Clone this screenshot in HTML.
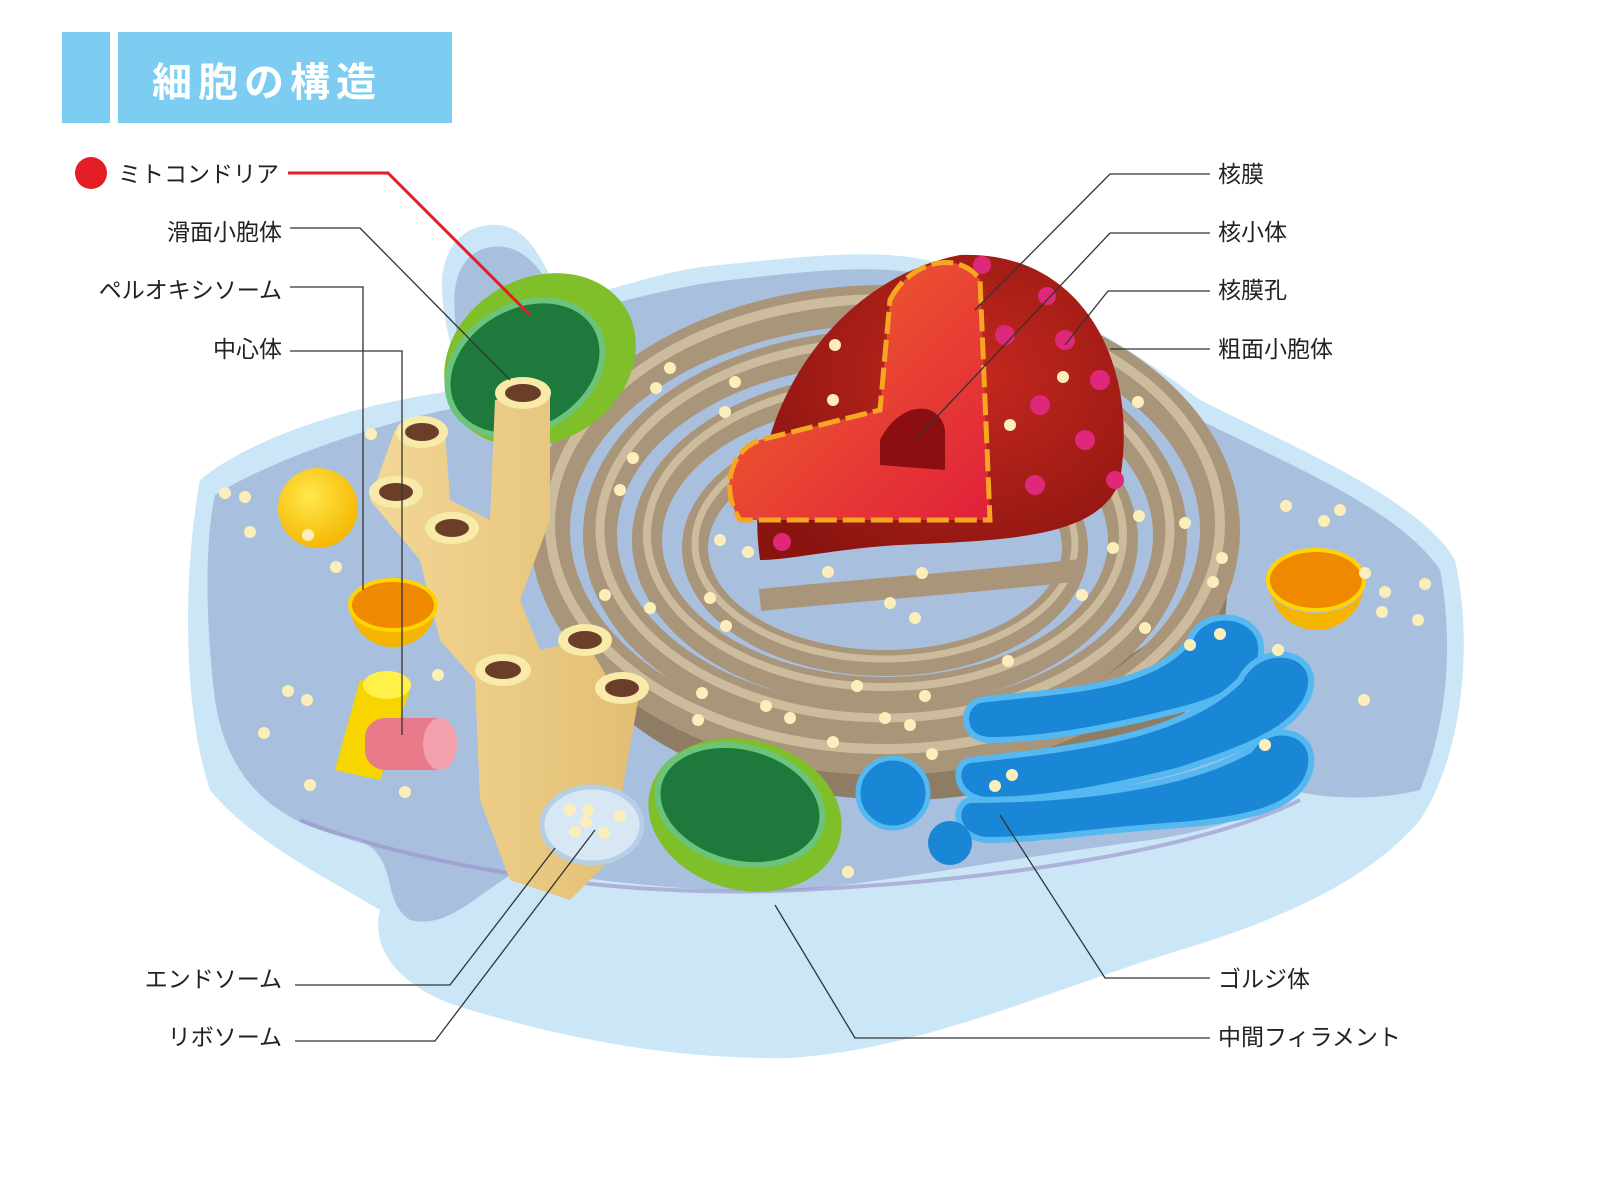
<!DOCTYPE html>
<html><head><meta charset="utf-8"><style>
html,body{margin:0;padding:0;background:#fff;width:1600px;height:1200px;overflow:hidden}
svg{display:block}
text{font-family:"Liberation Sans","Noto Sans CJK JP",sans-serif;fill:#222;font-size:23px}
</style></head><body>
<svg width="1600" height="1200" viewBox="0 0 1600 1200" xmlns="http://www.w3.org/2000/svg">
<defs>
<radialGradient id="nuc" cx="0.6" cy="0.4" r="0.7"><stop offset="0" stop-color="#c4281e"/><stop offset="1" stop-color="#8a1410"/></radialGradient>
<linearGradient id="cut" x1="0" y1="0" x2="1" y2="1"><stop offset="0" stop-color="#f06a2a"/><stop offset="1" stop-color="#e0203a"/></linearGradient>
<radialGradient id="yel" cx="0.4" cy="0.35" r="0.7"><stop offset="0" stop-color="#ffe84a"/><stop offset="1" stop-color="#f5b400"/></radialGradient>
<linearGradient id="tube" x1="0" y1="0" x2="1" y2="0"><stop offset="0" stop-color="#f3d795"/><stop offset="1" stop-color="#e2be74"/></linearGradient>
</defs>

<rect x="62" y="32" width="48" height="91" fill="#7ccdf1"/>
<rect x="118" y="32" width="334" height="91" fill="#7ccdf1"/>
<text x="152" y="96" style="font-size:40px;font-weight:bold;fill:#fff;letter-spacing:6px">細胞の構造</text>

<path d="M200,480 C260,430 380,400 460,390 C450,330 420,260 470,230 C520,210 540,250 560,300 C620,290 660,270 720,265 C820,255 900,245 960,270 C1050,300 1120,340 1200,400 C1300,450 1420,500 1455,560 C1475,650 1460,760 1420,820 C1370,880 1280,920 1180,950 C1050,990 920,1050 790,1058 C650,1060 540,1030 470,1010 C400,990 370,950 380,910 C330,880 250,840 210,790 C180,700 185,560 200,480 Z" fill="#cbe6f7"/>
<path d="M215,495 C280,455 390,420 470,405 C455,330 440,270 480,250 C520,235 545,270 565,315 C630,300 680,285 730,280 C820,270 900,260 960,285 C1050,315 1120,355 1200,420 C1290,465 1400,510 1440,570 C1455,650 1445,730 1420,790 C1380,800 1330,800 1290,790 C1270,810 1220,830 1150,840 C1000,860 900,880 800,890 C700,895 600,880 520,870 C480,890 450,930 410,920 C380,900 400,860 360,840 C300,830 230,800 215,700 C205,620 205,540 215,495 Z" fill="#a8c0de"/>
<path d="M300,820 C400,860 600,900 800,890 C1000,880 1200,850 1300,800" fill="none" stroke="#9a8fc8" stroke-width="4" opacity="0.6"/>

<path d="M560,620 C600,740 720,790 880,800 C1000,805 1150,760 1220,680 L1230,560 C1150,680 1000,720 880,720 C740,720 620,690 560,620Z" fill="#8e7c64"/>
<g fill="none">
<ellipse cx="885" cy="530" rx="335" ry="225" stroke="#a8957a" stroke-width="40"/>
<ellipse cx="885" cy="530" rx="335" ry="225" stroke="#cdbb9d" stroke-width="10" transform="translate(0,-6)"/>
<ellipse cx="885" cy="535" rx="285" ry="188" stroke="#a8957a" stroke-width="34"/>
<ellipse cx="885" cy="535" rx="285" ry="188" stroke="#cdbb9d" stroke-width="9" transform="translate(0,-5)"/>
<ellipse cx="885" cy="540" rx="238" ry="152" stroke="#a8957a" stroke-width="30"/>
<ellipse cx="885" cy="540" rx="238" ry="152" stroke="#cdbb9d" stroke-width="8" transform="translate(0,-5)"/>
<ellipse cx="885" cy="548" rx="190" ry="115" stroke="#a8957a" stroke-width="26"/>
<ellipse cx="885" cy="548" rx="190" ry="115" stroke="#cdbb9d" stroke-width="7" transform="translate(0,-4)"/>
</g>
<path d="M760,600 C860,590 1000,580 1080,570" stroke="#a8957a" stroke-width="22" fill="none"/>

<path d="M760,560 C740,420 830,280 960,255 C1080,250 1140,360 1120,480 C1100,540 1000,540 900,545 C840,548 790,560 760,560 Z" fill="url(#nuc)"/>
<path d="M890,300 C910,260 960,250 980,280 L990,520 L740,520 C720,490 730,450 760,440 L880,410 Z" fill="url(#cut)" stroke="#f5a623" stroke-width="5" stroke-dasharray="22 6"/>
<path d="M880,440 C900,400 940,400 945,430 L945,470 L880,465 Z" fill="#8a0e12"/>
<g fill="#e0287a">
<circle cx="982" cy="265" r="9"/><circle cx="1047" cy="296" r="9"/><circle cx="1005" cy="335" r="10"/><circle cx="1065" cy="340" r="10"/><circle cx="1100" cy="380" r="10"/><circle cx="1040" cy="405" r="10"/><circle cx="1085" cy="440" r="10"/><circle cx="1035" cy="485" r="10"/><circle cx="1115" cy="480" r="9"/><circle cx="782" cy="542" r="9"/>
</g>

<ellipse cx="540" cy="360" rx="100" ry="82" transform="rotate(-30 540 360)" fill="#7fbf2a"/>
<ellipse cx="525" cy="368" rx="82" ry="62" transform="rotate(-30 525 368)" fill="#1e7a3c" stroke="#6cc47a" stroke-width="6"/>
<ellipse cx="745" cy="815" rx="98" ry="75" transform="rotate(15 745 815)" fill="#7fbf2a"/>
<ellipse cx="740" cy="805" rx="84" ry="58" transform="rotate(15 740 805)" fill="#1e7a3c" stroke="#6cc47a" stroke-width="6"/>

<path fill="url(#tube)" d="M395,430 L445,430 L450,500 L490,520 L495,400 L550,395 L550,520 L520,600 L540,650 L585,640 L615,690 L640,690 L610,860 L570,900 L510,880 L480,800 L475,680 L440,640 L420,560 L370,500 Z"/>
<g fill="#f8eaa8"><ellipse cx="422" cy="432" rx="26" ry="16"/><ellipse cx="523" cy="393" rx="28" ry="16"/><ellipse cx="396" cy="492" rx="27" ry="16"/><ellipse cx="452" cy="528" rx="27" ry="16"/><ellipse cx="503" cy="670" rx="28" ry="16"/><ellipse cx="585" cy="640" rx="27" ry="16"/><ellipse cx="622" cy="688" rx="27" ry="16"/></g>
<g fill="#6b3e2a"><ellipse cx="422" cy="432" rx="17" ry="9"/><ellipse cx="523" cy="393" rx="18" ry="9"/><ellipse cx="396" cy="492" rx="17" ry="9"/><ellipse cx="452" cy="528" rx="17" ry="9"/><ellipse cx="503" cy="670" rx="18" ry="9"/><ellipse cx="585" cy="640" rx="17" ry="9"/><ellipse cx="622" cy="688" rx="17" ry="9"/></g>

<circle cx="318" cy="508" r="40" fill="url(#yel)"/>
<path d="M350,605 A43,25 0 0 0 436,605 A43,42 0 0 1 350,605Z" fill="#f5b400"/>
<ellipse cx="393" cy="605" rx="43" ry="25" fill="#ef8a00" stroke="#ffd400" stroke-width="4"/>
<path d="M1268,585 A48,28 0 0 0 1364,585 C1360,640 1280,650 1268,585Z" fill="#f5b400"/>
<ellipse cx="1316" cy="580" rx="48" ry="30" fill="#ef8a00" stroke="#ffd400" stroke-width="4"/>

<path d="M360,680 L410,690 L380,780 L335,770 Z" fill="#f7d600"/>
<ellipse cx="387" cy="685" rx="24" ry="14" fill="#fff04a"/>
<rect x="365" y="718" width="90" height="52" rx="20" fill="#e87a8a"/>
<ellipse cx="440" cy="744" rx="17" ry="26" fill="#f4a0ac"/>

<ellipse cx="592" cy="825" rx="50" ry="38" fill="#d7e7f4" stroke="#b7cfe6" stroke-width="5"/>

<g fill="#1a86d6" stroke="#56b8f0" stroke-width="6">
<path d="M980,700 C1060,690 1150,690 1190,640 C1200,610 1250,610 1260,640 C1270,680 1220,700 1180,710 C1100,730 1040,740 990,740 C960,740 960,705 980,700Z"/>
<path d="M970,760 C1060,750 1180,740 1240,680 C1260,640 1320,650 1310,690 C1300,730 1240,750 1180,770 C1100,790 1040,800 990,800 C955,800 950,765 970,760Z"/>
<path d="M970,800 C1060,800 1180,790 1250,750 C1270,720 1320,730 1310,770 C1300,810 1240,820 1180,825 C1100,830 1040,840 990,840 C955,840 950,805 970,800Z"/>
</g>
<ellipse cx="893" cy="793" rx="35" ry="35" fill="#1a86d6" stroke="#56b8f0" stroke-width="5"/>
<circle cx="950" cy="843" r="22" fill="#1a86d6"/>

<g fill="#fbeebb">
<circle cx="225" cy="493" r="6"/><circle cx="245" cy="497" r="6"/><circle cx="250" cy="532" r="6"/><circle cx="336" cy="567" r="6"/><circle cx="288" cy="691" r="6"/><circle cx="307" cy="700" r="6"/><circle cx="264" cy="733" r="6"/><circle cx="310" cy="785" r="6"/><circle cx="405" cy="792" r="6"/><circle cx="438" cy="675" r="6"/><circle cx="371" cy="434" r="6"/><circle cx="670" cy="368" r="6"/><circle cx="656" cy="388" r="6"/><circle cx="633" cy="458" r="6"/><circle cx="620" cy="490" r="6"/><circle cx="605" cy="595" r="6"/><circle cx="650" cy="608" r="6"/><circle cx="710" cy="598" r="6"/><circle cx="735" cy="382" r="6"/><circle cx="725" cy="412" r="6"/><circle cx="835" cy="345" r="6"/><circle cx="833" cy="400" r="6"/><circle cx="1063" cy="377" r="6"/><circle cx="1010" cy="425" r="6"/><circle cx="1138" cy="402" r="6"/><circle cx="1139" cy="516" r="6"/><circle cx="1185" cy="523" r="6"/><circle cx="1222" cy="558" r="6"/><circle cx="1213" cy="582" r="6"/><circle cx="1113" cy="548" r="6"/><circle cx="1082" cy="595" r="6"/><circle cx="1145" cy="628" r="6"/><circle cx="1008" cy="661" r="6"/><circle cx="922" cy="573" r="6"/><circle cx="890" cy="603" r="6"/><circle cx="915" cy="618" r="6"/><circle cx="828" cy="572" r="6"/><circle cx="748" cy="552" r="6"/><circle cx="720" cy="540" r="6"/><circle cx="857" cy="686" r="6"/><circle cx="885" cy="718" r="6"/><circle cx="910" cy="725" r="6"/><circle cx="925" cy="696" r="6"/><circle cx="833" cy="742" r="6"/><circle cx="790" cy="718" r="6"/><circle cx="766" cy="706" r="6"/><circle cx="702" cy="693" r="6"/><circle cx="698" cy="720" r="6"/><circle cx="726" cy="626" r="6"/><circle cx="932" cy="754" r="6"/><circle cx="1286" cy="506" r="6"/><circle cx="1324" cy="521" r="6"/><circle cx="1340" cy="510" r="6"/><circle cx="1365" cy="573" r="6"/><circle cx="1385" cy="592" r="6"/><circle cx="1382" cy="612" r="6"/><circle cx="1418" cy="620" r="6"/><circle cx="1425" cy="584" r="6"/><circle cx="1364" cy="700" r="6"/><circle cx="848" cy="872" r="6"/><circle cx="1220" cy="634" r="6"/><circle cx="1190" cy="645" r="6"/><circle cx="1278" cy="650" r="6"/><circle cx="1265" cy="745" r="6"/><circle cx="995" cy="786" r="6"/><circle cx="1012" cy="775" r="6"/><circle cx="575" cy="832" r="6"/><circle cx="604" cy="833" r="6"/><circle cx="586" cy="822" r="6"/><circle cx="570" cy="810" r="6"/><circle cx="620" cy="816" r="6"/><circle cx="588" cy="810" r="6"/><circle cx="308" cy="535" r="6"/>
</g>

<g fill="none" stroke="#333" stroke-width="1.3">
<polyline points="290,228 360,228 510,380"/>
<polyline points="290,287 363,287 363,590"/>
<polyline points="290,351 402,351 402,735"/>
<polyline points="1210,174 1110,174 975,310"/>
<polyline points="1210,233 1110,233 915,440"/>
<polyline points="1210,291 1108,291 1065,345"/>
<polyline points="1210,349 1110,349"/>
<polyline points="1210,978 1105,978 1000,815"/>
<polyline points="1210,1038 855,1038 775,905"/>
<polyline points="295,985 450,985 555,848"/>
<polyline points="295,1041 435,1041 595,830"/>
</g>
<polyline points="288,173 388,173 530,315" fill="none" stroke="#e31e24" stroke-width="3"/>
<circle cx="91" cy="173" r="16" fill="#e31e24"/>

<text x="118" y="182">ミトコンドリア</text>
<g text-anchor="end">
<text x="282" y="240">滑面小胞体</text>
<text x="282" y="298">ペルオキシソーム</text>
<text x="282" y="357">中心体</text>
<text x="282" y="987">エンドソーム</text>
<text x="282" y="1045">リボソーム</text>
</g>
<text x="1218" y="182">核膜</text>
<text x="1218" y="240">核小体</text>
<text x="1218" y="298">核膜孔</text>
<text x="1218" y="357">粗面小胞体</text>
<text x="1218" y="987">ゴルジ体</text>
<text x="1218" y="1045">中間フィラメント</text>
</svg>
</body></html>
